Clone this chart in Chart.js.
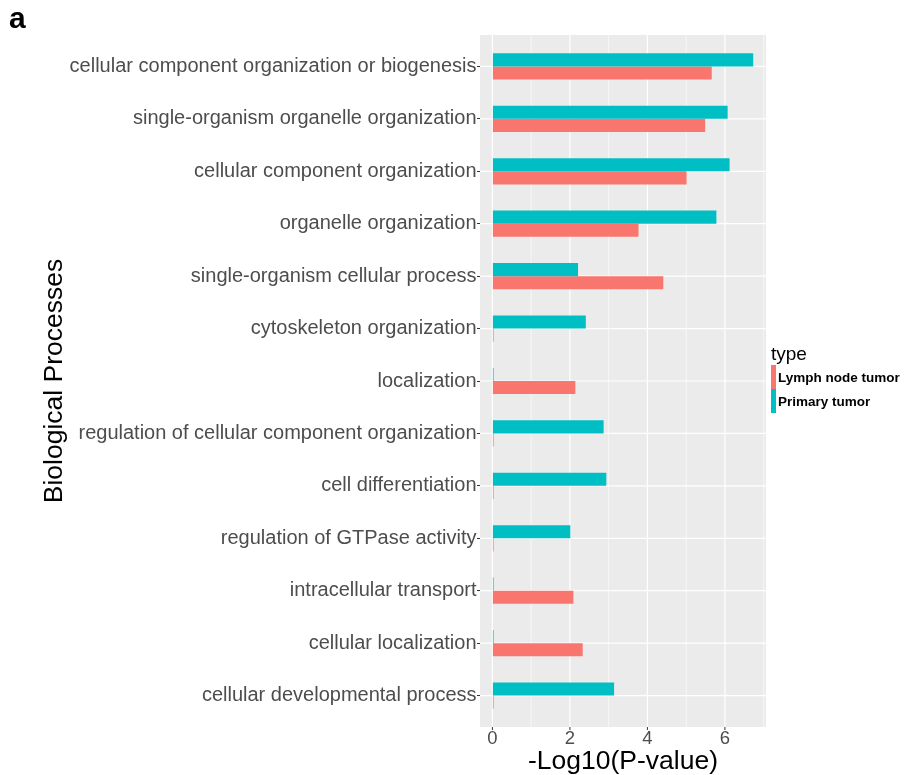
<!DOCTYPE html>
<html>
<head>
<meta charset="utf-8">
<script src="https://cdn.jsdelivr.net/npm/chart.js@4/dist/chart.umd.min.js"></script>
<style>
  html, body { margin: 0; padding: 0; background: #ffffff; }
  #wrap { position: relative; width: 904px; height: 775px; font-family: "Liberation Sans", Arial, sans-serif; }
  #chart { position: absolute; left: 0; top: 0; }
  .tag { position: absolute; left: 9px; top: 1px; font-size: 30px; font-weight: bold; color: #000; }
  .legend { position: absolute; left: 771px; top: 344px; color: #000; }
  .legend .ttl { font-size: 19px; line-height: 20px; margin-bottom: 1px; }
  .legend .row { display: flex; align-items: center; height: 24px; }
  .legend .key { width: 5px; height: 24px; margin-right: 2px; }
  .legend .lab { font-size: 13.5px; font-weight: bold; }
</style>
</head>
<body>
<div id="wrap">
  <canvas id="chart" width="904" height="775"></canvas>
  <div class="tag">a</div>
  <div class="legend" id="legend"></div>
</div>
<script>
// GO biological processes, listed top to bottom
const processes = [
  'cellular component organization or biogenesis',
  'single-organism organelle organization',
  'cellular component organization',
  'organelle organization',
  'single-organism cellular process',
  'cytoskeleton organization',
  'localization',
  'regulation of cellular component organization',
  'cell differentiation',
  'regulation of GTPase activity',
  'intracellular transport',
  'cellular localization',
  'cellular developmental process'
];

// -log10(P-value) per tumour type
const primaryTumor = [6.73, 6.07, 6.12, 5.78, 2.21, 2.41, 0.03, 2.87, 2.94, 2.01, 0.03, 0.03, 3.14];
const lymphNodeTumor = [5.66, 5.49, 5.01, 3.77, 4.41, 0.03, 2.14, 0.03, 0.03, 0.03, 2.09, 2.33, 0.03];

const xTicks = [0, 2, 4, 6];
const xMinorTicks = [1, 3, 5, 7];

const COL_PRIMARY = '#00BFC4';
const COL_LYMPH = '#F8766D';

// Grey panel with white grid, extended 0.6 category steps past the first/last row
const panelPlugin = {
  id: 'panel',
  beforeDatasetsDraw(chart) {
    const { ctx, chartArea, scales } = chart;
    const x = scales.x, y = scales.y;
    const step = y.getPixelForValue(1) - y.getPixelForValue(0);
    const top = y.getPixelForValue(0) - 0.6 * step;
    const bottom = y.getPixelForValue(processes.length - 1) + 0.6 * step;
    const left = chartArea.left, right = chartArea.right;
    ctx.save();
    ctx.fillStyle = '#EBEBEB';
    ctx.fillRect(left, top, right - left, bottom - top);
    ctx.strokeStyle = '#FFFFFF';
    ctx.lineWidth = 0.6;
    xMinorTicks.forEach(v => {
      const px = x.getPixelForValue(v);
      if (px > left && px < right) {
        ctx.beginPath(); ctx.moveTo(px, top); ctx.lineTo(px, bottom); ctx.stroke();
      }
    });
    ctx.lineWidth = 1.2;
    xTicks.forEach(v => {
      const px = x.getPixelForValue(v);
      ctx.beginPath(); ctx.moveTo(px, top); ctx.lineTo(px, bottom); ctx.stroke();
    });
    processes.forEach((p, i) => {
      const py = y.getPixelForValue(i);
      ctx.beginPath(); ctx.moveTo(left, py); ctx.lineTo(right, py); ctx.stroke();
    });
    // x tick marks below the panel
    ctx.strokeStyle = '#333333';
    ctx.lineWidth = 1;
    xTicks.forEach(v => {
      const px = x.getPixelForValue(v);
      ctx.beginPath(); ctx.moveTo(px, bottom); ctx.lineTo(px, bottom + 3); ctx.stroke();
    });
    ctx.restore();
  }
};

new Chart(document.getElementById('chart'), {
  type: 'bar',
  data: {
    labels: processes,
    datasets: [
      { label: 'Primary tumor', data: primaryTumor, backgroundColor: COL_PRIMARY },
      { label: 'Lymph node tumor', data: lymphNodeTumor, backgroundColor: COL_LYMPH }
    ]
  },
  options: {
    indexAxis: 'y',
    responsive: false,
    animation: false,
    events: [],
    datasets: { bar: { categoryPercentage: 0.5, barPercentage: 1.0 } },
    layout: { padding: { left: 41, right: 138, top: 40.2, bottom: 0 } },
    plugins: {
      legend: { display: false },
      tooltip: { enabled: false }
    },
    scales: {
      x: {
        type: 'linear',
        min: -0.32,
        max: 7.06,
        afterBuildTicks: (scale) => { scale.ticks = xTicks.map(v => ({ value: v })); },
        afterFit: (scale) => { scale.height = 53.2; },
        border: { display: false },
        grid: { display: true, drawOnChartArea: false, drawTicks: true, tickLength: 5, tickColor: 'rgba(0,0,0,0)' },
        ticks: {
          padding: 2.5,
          color: '#4D4D4D',
          font: { family: '"Liberation Sans", Arial, sans-serif', size: 18.5, lineHeight: 1 },
          maxRotation: 0,
          autoSkip: false,
          callback: (v) => String(v)
        },
        title: {
          display: true,
          text: '-Log10(P-value)',
          color: '#000000',
          padding: { top: 0, bottom: 0 },
          font: { family: '"Liberation Sans", Arial, sans-serif', size: 26.5, lineHeight: 1 }
        }
      },
      y: {
        type: 'category',
        offset: true,
        afterFit: (scale) => { scale.width = 439; },
        border: { display: false },
        grid: { display: true, offset: false, drawOnChartArea: false, drawTicks: true, tickLength: 3, tickColor: '#333333', tickWidth: 1 },
        ticks: {
          padding: 0.5,
          color: '#4D4D4D',
          autoSkip: false,
          font: { family: '"Liberation Sans", Arial, sans-serif', size: 20 }
        },
        title: {
          display: true,
          text: 'Biological Processes',
          color: '#000000',
          padding: { top: 0, bottom: 0 },
          font: { family: '"Liberation Sans", Arial, sans-serif', size: 26.5, lineHeight: 1 }
        }
      }
    }
  },
  plugins: [panelPlugin]
});

// Legend: "type" with tall narrow keys
const legendItems = [
  { label: 'Lymph node tumor', color: COL_LYMPH },
  { label: 'Primary tumor', color: COL_PRIMARY }
];
const legend = document.getElementById('legend');
legend.innerHTML = '<div class="ttl">type</div>' + legendItems.map(it =>
  '<div class="row"><div class="key" style="background:' + it.color + '"></div><div class="lab">' + it.label + '</div></div>'
).join('');
</script>
</body>
</html>
